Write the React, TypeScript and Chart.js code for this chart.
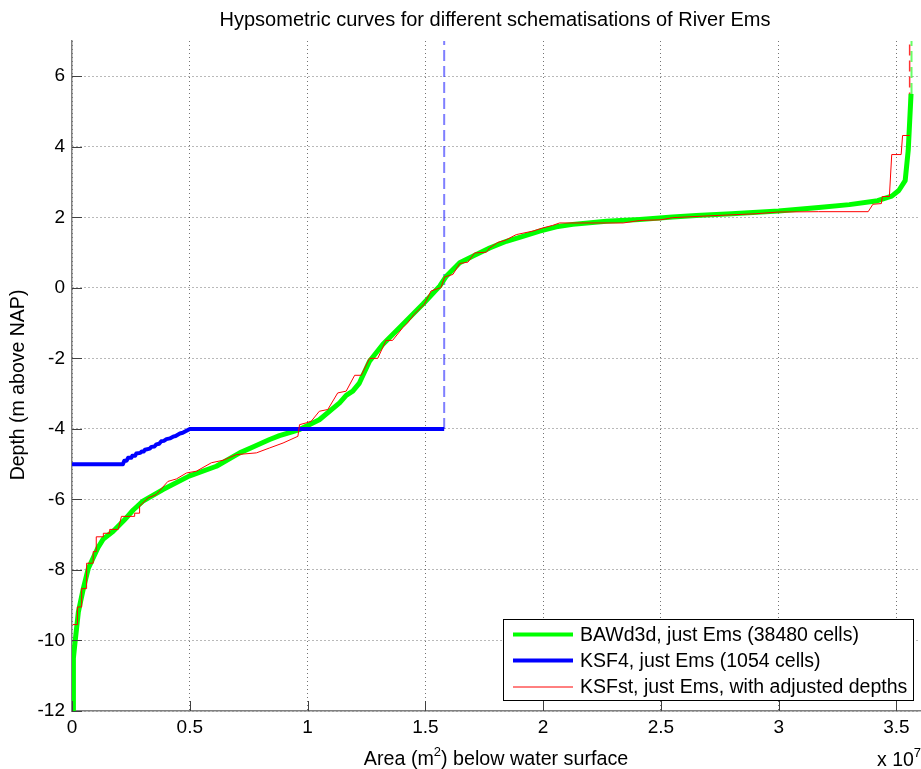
import React, { useEffect, useRef } from 'react';
import { Chart, registerables } from 'chart.js';

Chart.register(...registerables);

const FONT = '"Liberation Sans", Arial, Helvetica, sans-serif';

const TITLE = 'Hypsometric curves for different schematisations of River Ems';
const Y_TITLE = 'Depth (m above NAP)';
const X_TITLE_PRE = 'Area (m';
const X_TITLE_SUP = '2';
const X_TITLE_POST = ') below water surface';
const X_EXP_PRE = 'x 10';
const X_EXP_SUP = '7';

const X_MIN = 0;
const X_MAX = 3.6; // x 10^7 m2
const X_STEP = 0.5;
const Y_MIN = -12;
const Y_MAX = 7;
const Y_STEP = 2;

const LABEL_GREEN = 'BAWd3d, just Ems (38480 cells)';
const LABEL_BLUE = 'KSF4, just Ems (1054 cells)';
const LABEL_RED = 'KSFst, just Ems, with adjusted depths';

// BAWd3d (area in 10^7 m2, depth in m above NAP)
const greenArea = [0.006, 0.006, 0.013, 0.027, 0.048, 0.069, 0.11, 0.133, 0.175, 0.22, 0.26, 0.301, 0.386, 0.497, 0.613, 0.712, 0.78, 0.839, 0.881, 0.966, 1.05, 1.136, 1.164, 1.192, 1.22, 1.263, 1.32, 1.39, 1.49, 1.561, 1.589, 1.646, 1.702, 1.773, 1.844, 1.914, 1.985, 2.056, 2.126, 2.268, 2.41, 2.55, 2.65, 2.8, 3.0, 3.17, 3.3, 3.42, 3.48, 3.51, 3.537, 3.55, 3.562];
const greenDepth = [-12, -10.5, -10.04, -9.19, -8.53, -7.96, -7.37, -7.12, -6.9, -6.6, -6.3, -6.05, -5.72, -5.34, -5.06, -4.68, -4.48, -4.3, -4.19, -4.02, -3.74, -3.26, -3.05, -2.93, -2.7, -2.08, -1.6, -1.13, -0.46, 0.05, 0.33, 0.71, 0.9, 1.13, 1.32, 1.46, 1.61, 1.73, 1.8, 1.89, 1.94, 2.01, 2.05, 2.1, 2.18, 2.28, 2.36, 2.47, 2.6, 2.76, 3.04, 3.9, 5.5];
const greenTopArea = [3.564, 3.564];
const greenTopDepth = [5.5, 7];

// KSF4
const blueArea = [0, 0.216, 0.222, 0.232, 0.238, 0.252, 0.256, 0.268, 0.273, 0.29, 0.296, 0.305, 0.31, 0.33, 0.337, 0.35, 0.358, 0.37, 0.379, 0.39, 0.401, 0.415, 0.429, 0.44, 0.458, 0.47, 0.486, 0.5, 1.58];
const blueDepth = [-5, -5, -4.9, -4.9, -4.82, -4.82, -4.76, -4.76, -4.7, -4.68, -4.64, -4.64, -4.59, -4.56, -4.51, -4.5, -4.44, -4.42, -4.35, -4.34, -4.29, -4.27, -4.22, -4.2, -4.13, -4.11, -4.05, -4.0, -4.0];
const blueTopArea = [1.58, 1.58];
const blueTopDepth = [-4, 7];

// KSFst
const redArea = [0.003, 0.023, 0.023, 0.041, 0.041, 0.062, 0.062, 0.09, 0.09, 0.103, 0.103, 0.133, 0.133, 0.16, 0.16, 0.196, 0.21, 0.266, 0.266, 0.287, 0.287, 0.323, 0.358, 0.407, 0.443, 0.486, 0.528, 0.592, 0.641, 0.698, 0.783, 0.839, 0.896, 0.959, 0.966, 0.994, 1.016, 1.05, 1.086, 1.128, 1.164, 1.2, 1.228, 1.263, 1.298, 1.333, 1.361, 1.404, 1.425, 1.453, 1.496, 1.524, 1.567, 1.582, 1.617, 1.646, 1.681, 1.709, 1.759, 1.773, 1.808, 1.84, 1.886, 1.957, 1.999, 2.04, 2.07, 2.34, 2.41, 2.5, 2.55, 2.7, 2.9, 3.0, 3.17, 3.38, 3.4, 3.436, 3.44, 3.47, 3.48, 3.52, 3.526, 3.556];
const redDepth = [-9.55, -9.55, -9.05, -9.05, -8.53, -8.53, -7.81, -7.81, -7.48, -7.48, -7.06, -7.06, -6.96, -6.96, -6.85, -6.85, -6.48, -6.48, -6.39, -6.39, -6.19, -5.96, -5.86, -5.49, -5.42, -5.25, -5.2, -4.96, -4.89, -4.73, -4.68, -4.54, -4.4, -4.21, -3.88, -3.83, -3.78, -3.5, -3.45, -2.98, -2.93, -2.48, -2.48, -2.0, -2.0, -1.49, -1.49, -1.13, -0.99, -0.75, -0.46, -0.09, 0.01, 0.31, 0.38, 0.69, 0.73, 0.99, 1.01, 1.13, 1.29, 1.35, 1.51, 1.61, 1.7, 1.77, 1.84, 1.84, 1.91, 1.93, 1.99, 2.04, 2.1, 2.15, 2.16, 2.16, 2.37, 2.39, 2.59, 2.59, 3.78, 3.78, 4.32, 4.32];
const redTopArea = [3.556, 3.556];
const redTopDepth = [4.32, 7];

const pts = (xs: number[], ys: number[]) => xs.map((x, i) => ({ x, y: ys[i] }));

function drawSup(ctx: CanvasRenderingContext2D, pre: string, sup: string, post: string, x: number, y: number, align: 'center' | 'left', size: number) {
  ctx.save();
  ctx.textAlign = 'left';
  ctx.textBaseline = 'alphabetic';
  ctx.font = `${size}px ${FONT}`;
  const w1 = ctx.measureText(pre).width;
  const w3 = ctx.measureText(post).width;
  ctx.font = `${Math.round(size * 0.68)}px ${FONT}`;
  const w2 = ctx.measureText(sup).width;
  const total = w1 + w2 + w3;
  const sx = align === 'center' ? x - total / 2 : x;
  ctx.font = `${size}px ${FONT}`;
  ctx.fillText(pre, sx, y);
  if (post) ctx.fillText(post, sx + w1 + w2, y);
  ctx.font = `${Math.round(size * 0.68)}px ${FONT}`;
  ctx.fillText(sup, sx + w1, y - size * 0.45);
  ctx.restore();
}

const annotPlugin = {
  id: 'annot',
  afterDraw(chart: any) {
    const ctx: CanvasRenderingContext2D = chart.ctx;
    const { left, right, top, bottom } = chart.chartArea;
    const xs = chart.scales.x;
    const ys = chart.scales.y;
    ctx.save();
    // inward tick marks
    ctx.strokeStyle = '#404040';
    ctx.lineWidth = 1;
    xs.ticks.forEach((t: any) => {
      const px = Math.round(xs.getPixelForValue(t.value)) + 0.5;
      ctx.beginPath();
      ctx.moveTo(px, bottom);
      ctx.lineTo(px, bottom - 10);
      ctx.stroke();
    });
    ys.ticks.forEach((t: any) => {
      const py = Math.round(ys.getPixelForValue(t.value)) + 0.5;
      ctx.beginPath();
      ctx.moveTo(left, py);
      ctx.lineTo(left + 10, py);
      ctx.stroke();
    });
    const cx = (left + right) / 2;
    ctx.fillStyle = '#000';
    // title
    ctx.font = `20px ${FONT}`;
    ctx.textAlign = 'center';
    ctx.textBaseline = 'alphabetic';
    ctx.fillText(TITLE, cx - 1, 26);
    // x title
    drawSup(ctx, X_TITLE_PRE, X_TITLE_SUP, X_TITLE_POST, cx, 765, 'center', 19.7);
    drawSup(ctx, X_EXP_PRE, X_EXP_SUP, '', 877, 766, 'left', 19.5);
    // y title
    ctx.save();
    ctx.translate(24, (top + bottom) / 2 + 9);
    ctx.rotate(-Math.PI / 2);
    ctx.font = `19.5px ${FONT}`;
    ctx.textAlign = 'center';
    ctx.textBaseline = 'alphabetic';
    ctx.fillText(Y_TITLE, 0, 0);
    ctx.restore();
    // legend
    const items = chart.data.datasets.filter((d: any) => d.inLegend);
    const lx = 503.5, ly = 619.5, lw = 410, lh = 81;
    ctx.fillStyle = '#fff';
    ctx.fillRect(lx, ly, lw, lh);
    ctx.strokeStyle = '#000';
    ctx.lineWidth = 1;
    ctx.strokeRect(lx, ly, lw, lh);
    const rowY = [634.5, 660.5, 687];
    items.forEach((d: any, i: number) => {
      const y = rowY[i];
      ctx.strokeStyle = d.borderColor;
      ctx.lineWidth = d.legendWidth;
      ctx.beginPath();
      ctx.moveTo(513, y);
      ctx.lineTo(573, y);
      ctx.stroke();
      ctx.fillStyle = '#000';
      ctx.font = `19.5px ${FONT}`;
      ctx.textAlign = 'left';
      ctx.textBaseline = 'middle';
      ctx.fillText(d.label, 580, y + 1);
    });
    ctx.restore();
  },
};

export default function App() {
  const ref = useRef<HTMLCanvasElement | null>(null);
  useEffect(() => {
    if (!ref.current) return;
    const chart = new Chart(ref.current, {
      type: 'line',
      data: {
        datasets: [
          {
            label: LABEL_GREEN,
            data: pts(greenArea, greenDepth),
            borderColor: '#00ff00',
            borderWidth: 5,
            legendWidth: 4,
            inLegend: true,
            order: 2,
          } as any,
          {
            label: LABEL_BLUE,
            data: pts(blueArea, blueDepth),
            borderColor: '#0000ff',
            borderWidth: 4,
            legendWidth: 4,
            inLegend: true,
            order: 1,
          } as any,
          {
            label: LABEL_RED,
            data: pts(redArea, redDepth),
            borderColor: '#ff0000',
            borderWidth: 1,
            legendWidth: 1,
            inLegend: true,
            order: 0,
          } as any,
          {
            label: 'KSF4 above',
            data: pts(blueTopArea, blueTopDepth),
            borderColor: 'rgba(0,0,255,0.5)',
            borderWidth: 2,
            borderDash: [11, 5],
            order: 3,
          } as any,
          {
            label: 'KSFst above',
            data: pts(redTopArea, redTopDepth),
            borderColor: 'rgba(255,0,0,0.8)',
            borderWidth: 1.5,
            borderDash: [11, 5],
            order: 3,
          } as any,
          {
            label: 'BAWd3d above',
            data: pts(greenTopArea, greenTopDepth),
            borderColor: 'rgba(0,255,0,0.6)',
            borderWidth: 2,
            borderDash: [11, 5],
            order: 4,
          } as any,
        ],
      },
      options: {
        animation: false,
        responsive: false,
        devicePixelRatio: 1,
        parsing: false as any,
        normalized: true,
        elements: {
          point: { radius: 0, hoverRadius: 0 },
          line: { tension: 0, borderCapStyle: 'butt', borderJoinStyle: 'round' },
        },
        layout: { padding: { top: 41, right: 1, left: 0, bottom: 0 } },
        plugins: {
          legend: { display: false },
          title: { display: false },
          tooltip: { enabled: false },
        },
        scales: {
          x: {
            type: 'linear',
            min: X_MIN,
            max: X_MAX,
            afterFit: (s: any) => { s.height = 58; },
            ticks: {
              stepSize: X_STEP,
              includeBounds: false,
              autoSkip: false,
              maxRotation: 0,
              padding: 5,
              color: '#000',
              font: { family: FONT, size: 19 },
              callback: (v: any) => String(Math.round(Number(v) * 10) / 10),
            },
            grid: { color: 'rgba(0,0,0,0.55)', lineWidth: 1, drawTicks: false },
            border: { display: true, color: '#808080', width: 1.5, dash: [1, 3] },
          },
          y: {
            type: 'linear',
            min: Y_MIN,
            max: Y_MAX,
            afterFit: (s: any) => { s.width = 72; },
            ticks: {
              stepSize: Y_STEP,
              includeBounds: false,
              autoSkip: false,
              padding: 7,
              color: '#000',
              font: { family: FONT, size: 19 },
              callback: (v: any) => String(Math.round(Number(v))),
            },
            grid: { color: 'rgba(0,0,0,0.55)', lineWidth: 1, drawTicks: false },
            border: { display: true, color: '#808080', width: 1.5, dash: [1, 3] },
          },
        },
      } as any,
      plugins: [annotPlugin],
    });
    return () => chart.destroy();
  }, []);
  return (
    <div style={{ position: 'absolute', left: 0, top: 0, width: 921, height: 769, background: '#fff' }}>
      <canvas ref={ref} width={921} height={769} style={{ display: 'block', width: 921, height: 769 }} />
    </div>
  );
}
